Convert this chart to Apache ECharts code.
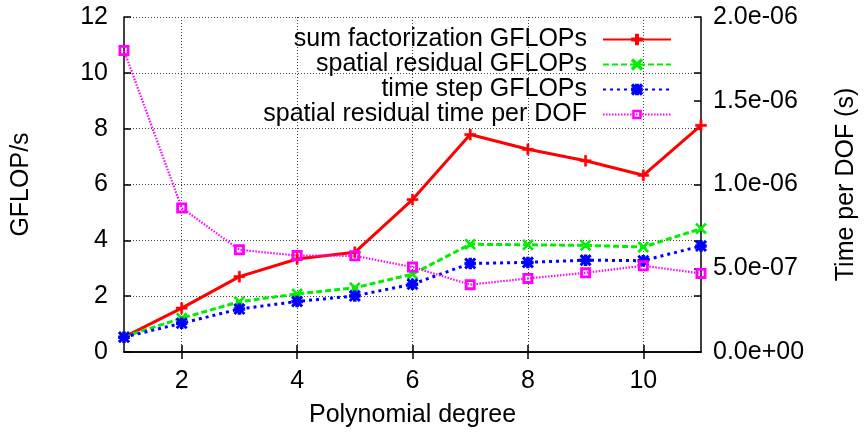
<!DOCTYPE html>
<html><head><meta charset="utf-8">
<script src="https://cdn.jsdelivr.net/npm/echarts@6/dist/echarts.min.js"></script>
<style>html,body{margin:0;padding:0;background:#fff}#c{width:867px;height:433px}</style>
</head><body><div id="c"></div>
<script>
var degrees = ['1','2','3','4','5','6','7','8','9','10','11'];
var sumFact = [0.53, 1.57, 2.70, 3.33, 3.57, 5.46, 7.79, 7.26, 6.85, 6.33, 8.12];
var spatialRes = [0.55, 1.21, 1.80, 2.08, 2.30, 2.79, 3.86, 3.84, 3.82, 3.76, 4.42];
var timeStep = [0.53, 1.03, 1.54, 1.81, 2.01, 2.43, 3.17, 3.21, 3.29, 3.27, 3.80];
var timePerDof = [1.80e-6, 8.6e-7, 6.1e-7, 5.76e-7, 5.74e-7, 5.07e-7, 4.02e-7, 4.39e-7, 4.73e-7, 5.15e-7, 4.69e-7];
var names = ['sum factorization GFLOPs','spatial residual GFLOPs','time step GFLOPs','spatial residual time per DOF'];

var FONT = '"Liberation Sans", Arial, sans-serif';
var FS = 25;
var plusPath = 'path://M4,0H6V4H10V6H6V10H4V6H0V4H4Z';
var xPath = 'path://M1,0L5,4L9,0L10,1L6,5L10,9L9,10L5,6L1,10L0,9L4,5L0,1Z';
var starPath = 'path://M4,0H6V4H10V6H6V10H4V6H0V4H4Z M1,0L5,4L9,0L10,1L6,5L10,9L9,10L5,6L1,10L0,9L4,5L0,1Z';
var boxPath = 'path://M0,0H10V10H0Z M2.6,2.6V7.4H7.4V2.6Z';

function expFmt(v){
  if (Math.abs(v) < 1e-15) return '0.0e+00';
  var s = v.toExponential(1);
  return s.replace(/e([+-])(\d+)$/, function(m, sg, d){ return 'e' + sg + (d.length < 2 ? '0' + d : d); });
}
var evenOnly = function(i, v){ return Number(v) % 2 === 0; };
var AX = {color: '#000', width: 1.5};

var chart = echarts.init(document.getElementById('c'));
var tops = [22, 47, 72, 97];
var legends = names.map(function(n, i){
  return {
    data: [n], right: 190, top: tops[i], align: 'right', orient: 'vertical',
    itemWidth: 68, itemHeight: 12, padding: 5,
    textStyle: {fontFamily: FONT, fontSize: FS, color: '#000', padding: [0, 11, 0, 0]}
  };
});
chart.setOption({
  animation: false,
  backgroundColor: '#fff',
  textStyle: {fontFamily: FONT},
  grid: {left: 124, right: 161, top: 17, bottom: 78},
  legend: legends,
  xAxis: [{
    type: 'category', data: degrees, boundaryGap: false, position: 'bottom',
    name: 'Polynomial degree', nameLocation: 'middle', nameGap: 51,
    nameTextStyle: {fontFamily: FONT, fontSize: FS, color: '#000'},
    axisLine: {lineStyle: AX},
    axisTick: {inside: true, length: 7, interval: evenOnly, lineStyle: AX},
    axisLabel: {interval: evenOnly, fontFamily: FONT, fontSize: FS, color: '#000', margin: 17},
    splitLine: {show: true, interval: evenOnly, lineStyle: {color: '#444', type: [1, 2], width: 1}}
  }, {
    type: 'category', data: degrees, boundaryGap: false, position: 'top',
    axisLine: {lineStyle: AX},
    axisTick: {inside: true, length: 7, interval: evenOnly, lineStyle: AX},
    axisLabel: {show: false}, splitLine: {show: false}
  }],
  yAxis: [{
    type: 'value', min: 0, max: 12, interval: 2, position: 'left',
    name: 'GFLOP/s', nameLocation: 'middle', nameGap: 90, nameRotate: 90,
    nameTextStyle: {fontFamily: FONT, fontSize: FS, color: '#000'},
    axisLine: {show: true, lineStyle: AX},
    axisTick: {show: true, inside: true, length: 7, lineStyle: AX},
    axisLabel: {fontFamily: FONT, fontSize: FS, color: '#000', margin: 16},
    splitLine: {show: true, lineStyle: {color: '#444', type: [1, 2], width: 1}}
  }, {
    type: 'value', min: 0, max: 2e-6, interval: 5e-7, position: 'right',
    name: 'Time per DOF (s)', nameLocation: 'middle', nameGap: 133, nameRotate: 90,
    nameTextStyle: {fontFamily: FONT, fontSize: FS, color: '#000'},
    axisLine: {show: true, lineStyle: AX},
    axisTick: {show: true, inside: true, length: 7, lineStyle: AX},
    axisLabel: {fontFamily: FONT, fontSize: FS, color: '#000', margin: 12, formatter: expFmt},
    splitLine: {show: false}
  }, {
    type: 'value', min: 0, max: 12, interval: 2, position: 'right',
    axisLine: {show: false},
    axisTick: {show: true, inside: true, length: 7, lineStyle: AX},
    axisLabel: {show: false}, splitLine: {show: false}
  }],
  series: [{
    name: names[0], type: 'line', xAxisIndex: 0, yAxisIndex: 0, data: sumFact,
    symbol: plusPath, symbolSize: 11,
    lineStyle: {color: '#ff0000', width: 3, type: 'solid'},
    itemStyle: {color: '#ff0000', borderColor: '#ff0000', borderWidth: 0.5}
  }, {
    name: names[1], type: 'line', xAxisIndex: 0, yAxisIndex: 0, data: spatialRes,
    symbol: xPath, symbolSize: 10,
    lineStyle: {color: '#00ee00', width: 3, type: [6, 3]},
    itemStyle: {color: '#00ee00', borderColor: '#00ee00', borderWidth: 1.2}
  }, {
    name: names[2], type: 'line', xAxisIndex: 0, yAxisIndex: 0, data: timeStep,
    symbol: starPath, symbolSize: 10,
    lineStyle: {color: '#0000ff', width: 3, type: [3, 4]},
    itemStyle: {color: '#0000ff', borderColor: '#0000ff', borderWidth: 1.5}
  }, {
    name: names[3], type: 'line', xAxisIndex: 0, yAxisIndex: 1, data: timePerDof,
    symbol: boxPath, symbolSize: 11,
    lineStyle: {color: '#ff00ff', width: 2.2, type: [1.5, 1.5]},
    itemStyle: {color: '#ff00ff'}
  }]
});
</script></body></html>
